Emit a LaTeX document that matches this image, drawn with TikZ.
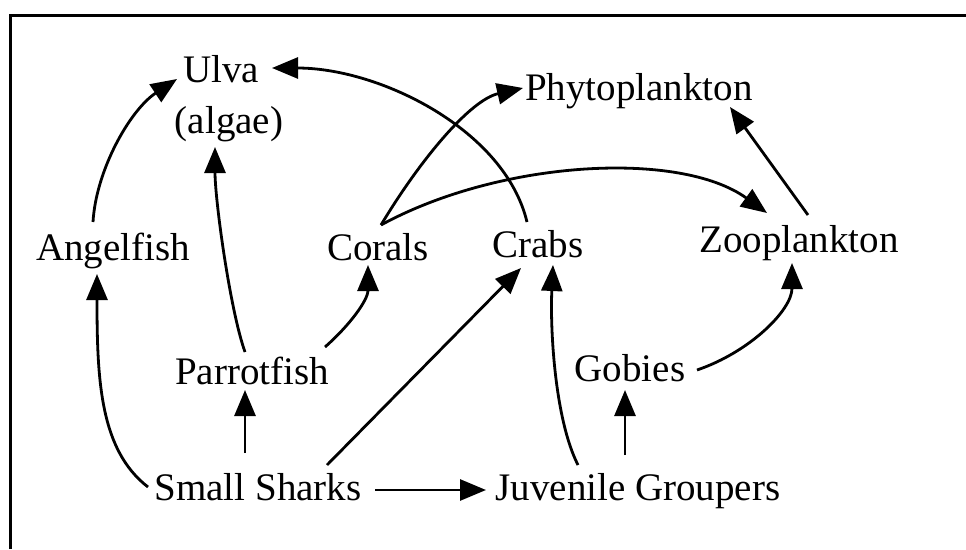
\documentclass[tikz,border=0pt]{standalone}
\usepackage{fontspec}
\setmainfont{Liberation Serif}
\usetikzlibrary{arrows.meta,calc}
\begin{document}
\begin{tikzpicture}[x=1pt,y=-1pt,
  every node/.style={font=\fontsize{39}{51}\selectfont, inner sep=0pt, outer sep=0pt},
  lbl/.style={anchor=base, text height=27pt, text depth=8pt},
  arr/.style={line width=2.8pt, -{Triangle[length=26pt,width=21pt]}},
  frameline/.style={line width=3pt}]
\useasboundingbox (0,0) rectangle (966,549);
\draw[frameline] (10,549) -- (10,15) -- (966,15);

\node[align=center] (ulva) at (229,99) {Ulva\hspace*{16pt}\\(algae)};
\node[lbl] (angel) at (113,260) {Angelfish};
\node[lbl] (corals) at (378,260) {Corals};
\node[lbl] (crabs) at (538,257) {Crabs};
\node[lbl] (zoo) at (799,252) {Zooplankton};
\node[lbl] (phyto) at (639,100) {Phytoplankton};
\node[lbl] (parrot) at (252,384) {Parrotfish};
\node[lbl] (gobies) at (630,381) {Gobies};
\node[lbl] (sharks) at (258,500) {Small Sharks};
\node[lbl] (juv) at (638,500) {Juvenile Groupers};

% Angelfish -> Ulva
\draw[arr] ($(angel.base)+(-20,-38)$) .. controls (96,170) and (130,110) .. ($(ulva.center)+(-52,-20)$);
% Parrotfish -> Ulva
\draw[arr] ($(parrot.base)+(-7,-32)$) .. controls (230,310) and (215,200) .. ($(ulva.center)+(-14,48)$);
% Crabs -> Ulva
\draw[arr] ($(crabs.base)+(-11,-35)$) .. controls (505,130) and (380,68) .. ($(ulva.center)+(43,-31)$);
% Corals -> Phytoplankton
\draw[arr] ($(corals.base)+(3,-35)$) .. controls (420,160) and (470,100) .. ($(phyto.base)+(-116,-12)$);
% Corals -> Zooplankton
\draw[arr] ($(corals.base)+(3,-35)$) .. controls (500,160) and (680,150) .. ($(zoo.base)+(-32,-39)$);
% Zooplankton -> Phytoplankton
\draw[arr] ($(zoo.base)+(9,-37)$) -- ($(phyto.base)+(91,7)$);
% Small Sharks -> Angelfish
\draw[arr] ($(sharks.base)+(-110,-13)$) .. controls (100,450) and (97,380) .. ($(angel.base)+(-16,14)$);
% Small Sharks -> Parrotfish
\draw[arr] ($(sharks.base)+(-13,-47)$) -- ($(parrot.base)+(-7,6)$);
% Parrotfish -> Corals
\draw[arr] ($(parrot.base)+(73,-37)$) .. controls (350,325) and (368,300) .. ($(corals.base)+(-10,5)$);
% Small Sharks -> Crabs
\draw[arr] ($(sharks.base)+(69,-35)$) -- ($(crabs.base)+(-17,11)$);
% Small Sharks -> Juvenile Groupers
\draw[arr] ($(sharks.base)+(117,-10)$) -- ($(juv.base)+(-152,-10)$);
% Juvenile Groupers -> Crabs
\draw[arr] ($(juv.base)+(-60,-35)$) .. controls (555,420) and (550,330) .. ($(crabs.base)+(15,8)$);
% Juvenile Groupers -> Gobies
\draw[arr] ($(juv.base)+(-13,-45)$) -- ($(gobies.base)+(-5,9)$);
% Gobies -> Zooplankton
\draw[arr] ($(gobies.base)+(67,-11)$) .. controls (750,352) and (792,310) .. ($(zoo.base)+(-7,11)$);
\end{tikzpicture}
\end{document}
